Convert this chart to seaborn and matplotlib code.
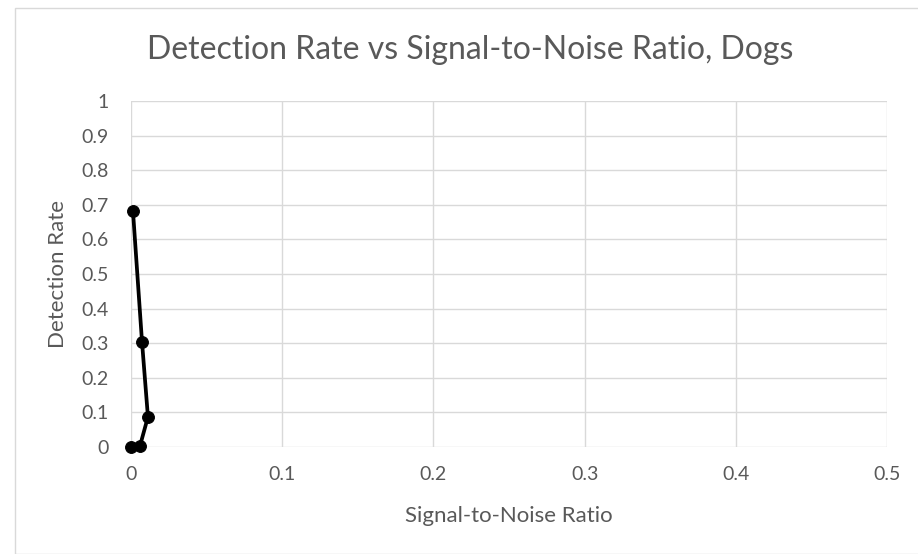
import numpy as np
import pandas as pd
import seaborn as sns
import matplotlib.pyplot as plt
from matplotlib.patches import Rectangle

# signal-to-noise ratio vs detection rate
snr = [0.0013, 0.0073, 0.0112, 0.0060, 0.0]
rate = [0.682, 0.303, 0.087, 0.004, 0.0]

df = pd.DataFrame({"snr": snr, "rate": rate})

sns.set_style("white")
plt.rcParams['font.family'] = ['Lato', 'DejaVu Sans']

fig = plt.figure(figsize=(9.18, 5.54), dpi=100)
ax = fig.add_axes([131 / 918, 1 - 447 / 554, (887 - 131) / 918, (447 - 101) / 554])

sns.lineplot(data=df, x="snr", y="rate", sort=False, color="black",
             linewidth=2.7, marker="o", markersize=8.5, markeredgecolor="black",
             ax=ax, zorder=3, clip_on=False)

ax.set_xlim(0, 0.5)
ax.set_ylim(0, 1)
ax.set_xticks(np.arange(0, 0.51, 0.1))
ax.set_xticklabels(["0", "0.1", "0.2", "0.3", "0.4", "0.5"])
ax.set_yticks(np.arange(0, 1.01, 0.1))
ax.set_yticklabels(["0", "0.1", "0.2", "0.3", "0.4", "0.5", "0.6", "0.7", "0.8", "0.9", "1"])
ax.grid(True, color="#d9d9d9", linewidth=1)
for s in ax.spines.values():
    s.set_visible(False)
ax.tick_params(axis="both", length=0, labelsize=14, colors="#595959")
ax.tick_params(axis="y", pad=16)
ax.tick_params(axis="x", pad=14)

ax.set_xlabel("Signal-to-Noise Ratio", fontsize=16, color="#595959", va="center")
ax.set_ylabel("Detection Rate", fontsize=16, color="#595959", va="center")
ax.xaxis.set_label_coords(0.5, (447 - 516) / 346)
ax.yaxis.set_label_coords((58 - 131) / 756, 0.5)
fig.text(470 / 918, 1 - 50 / 554, "Detection Rate vs Signal-to-Noise Ratio, Dogs",
         ha="center", va="center", fontsize=23, color="#595959")

fig.patches.append(Rectangle((15 / 918, 0), 1, 1 - 8 / 554, transform=fig.transFigure,
                             fill=False, edgecolor="#d9d9d9", linewidth=1))

fig.savefig("out.png", dpi=100)
